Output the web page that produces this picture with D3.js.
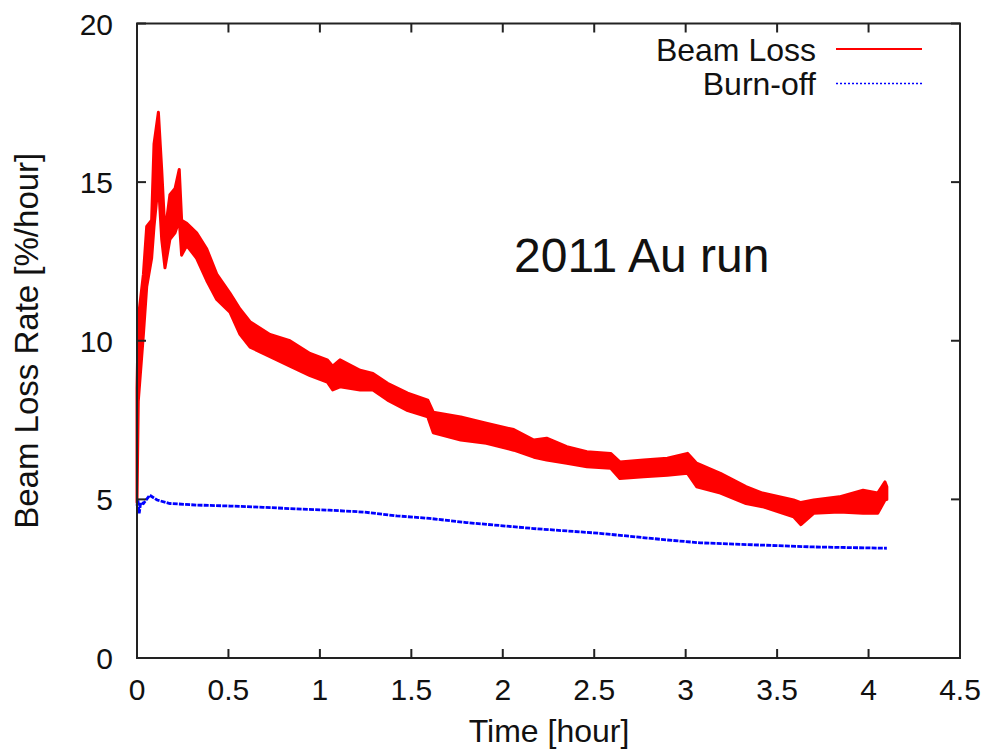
<!DOCTYPE html>
<meta charset="utf-8">
<style>
    body { margin: 0; background: #fff; }
    text { font-family: "Liberation Sans", Arial, sans-serif; fill: #111; }
    .frame { fill: none; stroke: #222; stroke-width: 2; }
    .tick { stroke: #222; stroke-width: 2; }
</style>
<svg width="988" height="750"></svg>
<script src="https://d3js.org/d3.v7.min.js"></script>
<script>

    // Beam Loss band: time [hour], lower and upper edge of the noisy trace [%/hour]
    var lossTime = [0, 0.007, 0.035, 0.053, 0.080, 0.093, 0.117, 0.135, 0.153, 0.180, 0.208, 0.231, 0.244,
        0.272, 0.326, 0.381, 0.436, 0.508, 0.563, 0.618, 0.727, 0.836, 0.946, 1.04, 1.07, 1.11, 1.22,
        1.29, 1.37, 1.48, 1.59, 1.62, 1.77, 1.91, 2.06, 2.17, 2.24, 2.35, 2.46, 2.59, 2.64, 2.77,
        2.90, 3.01, 3.06, 3.19, 3.33, 3.42, 3.59, 3.63, 3.70, 3.84, 3.97, 4.05, 4.09, 4.10];
    var lossLow = [4.9, 8.1, 10.2, 11.7, 12.6, 13.6, 15.0, 13.2, 12.3, 13.2, 13.4, 13.8, 12.7,
        13.0, 12.6, 11.9, 11.3, 10.9, 10.2, 9.8, 9.5, 9.2, 8.9, 8.7, 8.45, 8.55, 8.45,
        8.45, 8.13, 7.8, 7.6, 7.1, 6.87, 6.77, 6.55, 6.33, 6.24, 6.14, 6.03, 5.98, 5.66, 5.71,
        5.76, 5.82, 5.4, 5.2, 4.87, 4.77, 4.45, 4.2, 4.56, 4.6, 4.56, 4.56, 4.98, 5.0];
    var lossHigh = [8.5, 10.7, 12.1, 13.6, 13.8, 16.2, 17.2, 15.4, 13.4, 14.6, 14.8, 15.4, 13.8,
        13.7, 13.4, 12.9, 12.1, 11.5, 11.0, 10.6, 10.2, 10.0, 9.6, 9.4, 9.2, 9.4, 9.07,
        8.97, 8.66, 8.35, 8.13, 7.75, 7.6, 7.4, 7.2, 6.87, 6.93, 6.66, 6.5, 6.45, 6.18, 6.24,
        6.3, 6.45, 6.14, 5.82, 5.4, 5.2, 4.98, 4.9, 4.98, 5.08, 5.29, 5.2, 5.55, 5.4];

    // Burn-off trace
    var burnTime = [0, 0.005, 0.012, 0.02, 0.035, 0.07, 0.11, 0.18, 0.33, 0.51, 0.69, 0.87, 1.05, 1.24,
        1.42, 1.60, 1.80, 2.17, 2.53, 2.90, 3.08, 3.41, 3.70, 4.10];
    var burnValue = [4.8, 4.98, 4.56, 4.9, 4.87, 5.13, 4.98, 4.87, 4.82, 4.79, 4.75, 4.7, 4.66, 4.6,
        4.48, 4.4, 4.27, 4.08, 3.93, 3.72, 3.63, 3.56, 3.5, 3.46];

    var xTicks = [0, 0.5, 1, 1.5, 2, 2.5, 3, 3.5, 4, 4.5];
    var yTicks = [0, 5, 10, 15, 20];

    var svg = d3.select("svg"),
        plotLeft = 137, plotRight = 960, plotTop = 23.5, plotBottom = 658, tickLen = 9;

    var x = d3.scaleLinear().domain([0, 4.5]).range([plotLeft, plotRight]);
    var y = d3.scaleLinear().domain([0, 20]).range([plotBottom, plotTop]);

    var band = lossTime.map(function(t, i) { return [t, lossLow[i], lossHigh[i]]; });
    var burn = burnTime.map(function(t, i) { return [t, burnValue[i]]; });

    var area = d3.area()
        .x(function(d) { return x(d[0]); })
        .y0(function(d) { return y(d[1]); })
        .y1(function(d) { return y(d[2]); });

    svg.append("path")
        .datum(band)
        .attr("d", area)
        .attr("fill", "#ff0000")
        .attr("stroke", "#ff0000")
        .attr("stroke-width", 3)
        .attr("stroke-linejoin", "round");

    var line = d3.line()
        .x(function(d) { return x(d[0]); })
        .y(function(d) { return y(d[1]); });

    svg.append("path")
        .datum(burn)
        .attr("d", line)
        .attr("fill", "none")
        .attr("stroke", "#0000ff")
        .attr("stroke-width", 2.8)
        .attr("stroke-dasharray", "5,1.2");

    // frame with mirrored inward ticks
    svg.append("rect").attr("class", "frame")
        .attr("x", plotLeft).attr("y", plotTop)
        .attr("width", plotRight - plotLeft).attr("height", plotBottom - plotTop);

    xTicks.forEach(function(v) {
        svg.append("line").attr("class", "tick")
            .attr("x1", x(v)).attr("x2", x(v)).attr("y1", plotBottom).attr("y2", plotBottom - tickLen);
        svg.append("line").attr("class", "tick")
            .attr("x1", x(v)).attr("x2", x(v)).attr("y1", plotTop).attr("y2", plotTop + tickLen);
        svg.append("text")
            .attr("x", x(v)).attr("y", plotBottom + 42)
            .attr("text-anchor", "middle")
            .style("font-size", "30px")
            .text(v);
    });

    yTicks.forEach(function(v) {
        svg.append("line").attr("class", "tick")
            .attr("x1", plotLeft).attr("x2", plotLeft + tickLen).attr("y1", y(v)).attr("y2", y(v));
        svg.append("line").attr("class", "tick")
            .attr("x1", plotRight).attr("x2", plotRight - tickLen).attr("y1", y(v)).attr("y2", y(v));
        svg.append("text")
            .attr("x", plotLeft - 24).attr("y", y(v) + 11)
            .attr("text-anchor", "end")
            .style("font-size", "30px")
            .text(v);
    });

    svg.append("text")
        .attr("x", 549).attr("y", 742)
        .attr("text-anchor", "middle")
        .style("font-size", "32px")
        .text("Time [hour]");

    svg.append("text")
        .attr("transform", "translate(38," + (plotTop + plotBottom) / 2 + ") rotate(-90)")
        .attr("text-anchor", "middle")
        .style("font-size", "33px")
        .text("Beam Loss Rate [%/hour]");

    // legend
    svg.append("text")
        .attr("x", 816).attr("y", 61)
        .attr("text-anchor", "end")
        .style("font-size", "32px")
        .text("Beam Loss");
    svg.append("line")
        .attr("x1", 836).attr("x2", 922).attr("y1", 49).attr("y2", 49)
        .attr("stroke", "#ff0000").attr("stroke-width", 2);

    svg.append("text")
        .attr("x", 816).attr("y", 95)
        .attr("text-anchor", "end")
        .style("font-size", "32px")
        .text("Burn-off");
    svg.append("line")
        .attr("x1", 836).attr("x2", 922).attr("y1", 83.5).attr("y2", 83.5)
        .attr("stroke", "#0000ff").attr("stroke-width", 1.5)
        .attr("stroke-dasharray", "2,2");

    svg.append("text")
        .attr("x", 514).attr("y", 272)
        .style("font-size", "48px")
        .text("2011 Au run");

</script>
